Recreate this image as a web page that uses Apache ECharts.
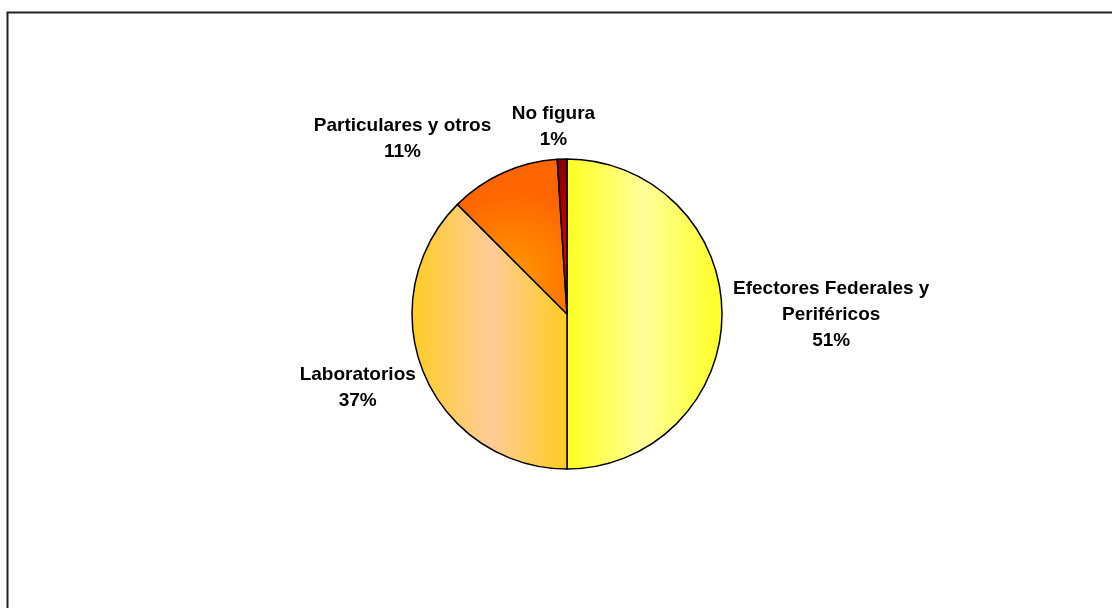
<!DOCTYPE html>
<html>
<head>
<meta charset="utf-8">
<script src="https://cdn.jsdelivr.net/npm/echarts@6/dist/echarts.min.js"></script>
<style>
html,body{margin:0;padding:0;background:#fff;}
#chart{width:1112px;height:608px;}
</style>
</head>
<body>
<div id="chart"></div>
<script>
// Data
const categories = ['Efectores Federales y\nPeriféricos', 'Laboratorios', 'Particulares y otros', 'No figura'];
const values = [50.0, 37.5, 11.5, 1.0];          // slice shares as drawn
const percentLabels = ['51%', '37%', '11%', '1%']; // percentages as printed

// Styles (not data)
const gradients = [
  {type:'linear', x:0, y:0, x2:1, y2:0, colorStops:[{offset:0,color:'#FFFF22'},{offset:0.5,color:'#FFFF99'},{offset:1,color:'#FFFF22'}]},
  {type:'linear', x:0, y:0, x2:1, y2:0, colorStops:[{offset:0,color:'#FFCC22'},{offset:0.5,color:'#FFCC99'},{offset:1,color:'#FFCC22'}]},
  {type:'radial', x:0.5, y:0.75, r:0.75, colorStops:[{offset:0,color:'#FF9900'},{offset:1,color:'#FF6600'}]},
  {type:'linear', x:0, y:0, x2:0, y2:1, colorStops:[{offset:0,color:'#800000'},{offset:0.5,color:'#CC0000'},{offset:1,color:'#FF0000'}]}
];
const nudges = [[6,1],[-3,14],[-7,-34],[38,-32]];

const chart = echarts.init(document.getElementById('chart'), null, {renderer:'canvas'});
chart.setOption({
  backgroundColor:'#ffffff',
  animation:false,
  graphic:[{
    type:'rect', left:5, top:10, silent:true,
    shape:{width:1200, height:700},
    style:{fill:'none', stroke:'#222', lineWidth:2}
  }],
  series:[{
    type:'pie',
    center:[567,314],
    radius:155,
    startAngle:90,
    clockwise:true,
    avoidLabelOverlap:false,
    data: categories.map((c,i)=>({name:c, value:values[i], itemStyle:{color:gradients[i]}})),
    itemStyle:{borderColor:'#000', borderWidth:1.5},
    label:{
      show:true, position:'outside',
      formatter:(p)=> p.name + '\n' + percentLabels[p.dataIndex],
      fontFamily:'"Liberation Sans", Arial, sans-serif',
      fontWeight:'bold', fontSize:19, lineHeight:26, color:'#000',
      align:'center'
    },
    labelLine:{show:false, length:0, length2:0},
    labelLayout:(params)=>{
      const r = params.labelRect, n = nudges[params.dataIndex];
      return {x:r.x + r.width/2 + n[0], y:r.y + r.height/2 + n[1], align:'center', verticalAlign:'middle'};
    },
    emphasis:{disabled:true}
  }]
});
</script>
</body>
</html>
